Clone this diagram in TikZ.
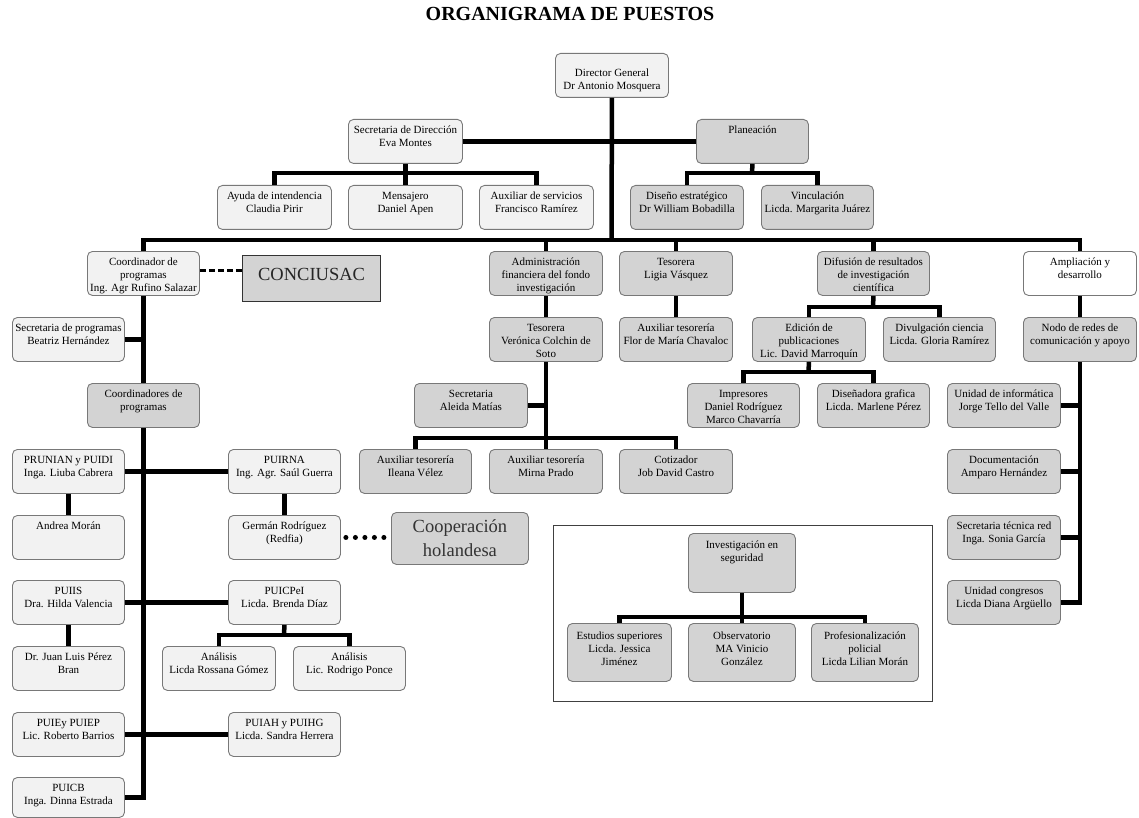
\documentclass[tikz,border=0pt]{standalone}
\usepackage{fontspec}
\setmainfont{Liberation Serif}
\definecolor{lightfill}{RGB}{242,242,242}
\definecolor{midfill}{RGB}{211,211,211}
\definecolor{boxborder}{RGB}{120,120,120}
\newcommand{\bxt}[4][14]{\parbox[t][#3pt][t]{#2pt}{\centering\rule{0pt}{#1pt}#4}}
\tikzset{
  box/.style={draw=boxborder, line width=0.9pt, rounded corners=5pt, inner sep=0pt, anchor=north west, font=\fontsize{11}{13}\selectfont},
  lt/.style={box, fill=lightfill},
  md/.style={box, fill=midfill},
  wt/.style={box, fill=white},
  conn/.style={line width=4.5pt, black},
  dashconn/.style={line width=3.5pt, black, dash pattern=on 6pt off 3pt},
  dotconn/.style={line width=5pt, black, line cap=round, dash pattern=on 0pt off 9.5pt, shorten <=5pt, shorten >=5pt},
  frame/.style={draw=black!75, line width=1pt},
}
\begin{document}
\begin{tikzpicture}[x=1pt,y=-1pt]
\useasboundingbox (0,0) rectangle (1139,818);
% title
\node[anchor=base, inner sep=0pt, font=\fontsize{20}{24}\selectfont\bfseries] (title) at (570,21) {ORGANIGRAMA DE PUESTOS};

% investigation frame
\node[frame, anchor=north west, minimum width=379pt, minimum height=176pt, inner sep=0pt] (frm) at (553,525) {};

% coordinates for bars
\coordinate (mb) at (611.5,240);
\coordinate (sdb) at (405,173);
\coordinate (plb) at (752,173);
\coordinate (dfb) at (873,307);
\coordinate (epb) at (808.5,372);
\coordinate (tvb) at (545.5,438);
\coordinate (pcb) at (284,635);
\coordinate (isb) at (741.5,617);

% ---------- nodes ----------
\node[lt] (dg) at (555,53) {\bxt[23]{113}{44}{Director General\\Dr Antonio Mosquera}};
\node[lt] (sd) at (348,119) {\bxt{114}{44}{Secretaria de Dirección\\Eva Montes}};
\node[md] (pl) at (696,119) {\bxt{112}{44}{Planeación}};
\node[lt] (ai) at (217,185) {\bxt{114}{44}{Ayuda de intendencia\\Claudia Pirir}};
\node[lt] (ms) at (348,185) {\bxt{114}{44}{Mensajero\\Daniel Apen}};
\node[lt] (as) at (479,185) {\bxt{114}{44}{Auxiliar de servicios\\Francisco Ramírez}};
\node[md] (de) at (630,185) {\bxt{113}{44}{Diseño estratégico\\Dr William Bobadilla}};
\node[md] (vi) at (761,185) {\bxt{112}{44}{Vinculación\\Licda. Margarita Juárez}};

\node[lt] (cp) at (87,251) {\bxt{112}{44}{Coordinador de\\programas\\Ing. Agr Rufino Salazar}};
\node[draw=black!80, line width=1.2pt, fill=midfill, inner sep=0pt, anchor=north west, font=\fontsize{18.5}{22}\selectfont, text=black!85] (cs) at (242,255) {\bxt[25]{138}{46}{CONCIUSAC}};
\node[md] (af) at (489,251) {\bxt{113}{44}{Administración\\financiera del fondo\\investigación}};
\node[md] (tl) at (619,251) {\bxt{113}{44}{Tesorera\\Ligia Vásquez}};
\node[md] (df) at (817,251) {\bxt{112}{44}{Difusión de resultados\\de investigación\\científica}};
\node[wt] (ad) at (1023,251) {\bxt{113}{44}{Ampliación y\\desarrollo}};

\node[lt] (sp) at (12,317) {\bxt{112}{44}{Secretaria de programas\\Beatriz Hernández}};
\node[md] (tv) at (489,317) {\bxt{113}{44}{Tesorera\\Verónica Colchin de\\Soto}};
\node[md] (at) at (619,317) {\bxt{113}{44}{Auxiliar tesorería\\Flor de María Chavaloc}};
\node[md] (ep) at (752,317) {\bxt{113}{44}{Edición de\\publicaciones\\Lic. David Marroquín}};
\node[md] (dc) at (883,317) {\bxt{112}{44}{Divulgación ciencia\\Licda. Gloria Ramírez}};
\node[md] (nr) at (1023,317) {\bxt{113}{44}{Nodo de redes de\\comunicación y apoyo}};

\node[md] (cdp) at (87,383) {\bxt{112}{44}{Coordinadores de\\programas}};
\node[md] (sa) at (414,383) {\bxt{113}{44}{Secretaria\\Aleida Matías}};
\node[md] (im) at (687,383) {\bxt{112}{44}{Impresores\\Daniel Rodríguez\\Marco Chavarría}};
\node[md] (dg2) at (817,383) {\bxt{112}{44}{Diseñadora grafica\\Licda. Marlene Pérez}};
\node[md] (ui) at (947,383) {\bxt{113}{44}{Unidad de informática\\Jorge Tello del Valle}};

\node[lt] (pp) at (12,449) {\bxt{112}{44}{PRUNIAN y PUIDI\\Inga. Liuba Cabrera}};
\node[lt] (pr) at (228,449) {\bxt{112}{44}{PUIRNA\\Ing. Agr. Saúl Guerra}};
\node[md] (iv) at (359,449) {\bxt{112}{44}{Auxiliar tesorería\\Ileana Vélez}};
\node[md] (mp) at (489,449) {\bxt{113}{44}{Auxiliar tesorería\\Mirna Prado}};
\node[md] (co) at (619,449) {\bxt{113}{44}{Cotizador\\Job David Castro}};
\node[md] (dm) at (947,449) {\bxt{113}{44}{Documentación\\Amparo Hernández}};

\node[lt] (am) at (12,515) {\bxt{112}{44}{Andrea Morán}};
\node[lt] (gr) at (228,515) {\bxt{112}{44}{Germán Rodríguez\\(Redfia)}};
\node[md, font=\fontsize{18.5}{24}\selectfont, text=black!80] (ch) at (391,512) {\bxt[20]{137}{52}{Cooperación\\holandesa}};
\node[md] (st) at (947,515) {\bxt{113}{44}{Secretaria técnica red\\Inga. Sonia García}};

\node[lt] (pi) at (12,580) {\bxt{112}{44}{PUIIS\\Dra. Hilda Valencia}};
\node[lt] (pc) at (228,580) {\bxt{112}{44}{PUICPeI\\Licda. Brenda Díaz}};
\node[md] (uc) at (947,580) {\bxt{113}{44}{Unidad congresos\\Licda Diana Argüello}};

\node[lt] (jl) at (12,646) {\bxt{112}{44}{Dr. Juan Luis Pérez\\Bran}};
\node[lt] (ar) at (162,646) {\bxt{113}{44}{Análisis\\Licda Rossana Gómez}};
\node[lt] (rp) at (293,646) {\bxt{112}{44}{Análisis\\Lic. Rodrigo Ponce}};

\node[lt] (pe) at (12,712) {\bxt{112}{44}{PUIEy PUIEP\\Lic. Roberto Barrios}};
\node[lt] (ph) at (228,712) {\bxt{112}{44}{PUIAH y PUIHG\\Licda. Sandra Herrera}};

\node[lt] (pb) at (12,777) {\bxt{112}{40}{PUICB\\Inga. Dinna Estrada}};

\node[md] (is) at (688,533) {\bxt[15]{107}{59}{Investigación en\\seguridad}};
\node[md] (es) at (567,623) {\bxt[16]{104}{58}{Estudios superiores\\Licda. Jessica\\Jiménez}};
\node[md] (ob) at (688,623) {\bxt[16]{107}{58}{Observatorio\\MA Vinicio\\González}};
\node[md] (pf) at (811,623) {\bxt[16]{107}{58}{Profesionalización\\policial\\Licda Lilian Morán}};

% ---------- connectors ----------
\draw[conn] (cp.north) |- (mb) -| (ad.north);
\draw[conn] (dg.south) -- (mb);
\draw[conn] (sd.east) -- (pl.west);
\draw[conn] (ai.north) |- (sdb) -| (as.north);
\draw[conn] (sd.south) -- (ms.north);
\draw[conn] (de.north) |- (plb) -| (vi.north);
\draw[conn] (pl.south) -- (plb);
\draw[conn] (af.north) -- (af.north |- mb);
\draw[conn] (tl.north) -- (tl.north |- mb);
\draw[conn] (df.north) -- (df.north |- mb);

\draw[conn] (cp.south) -- (cdp.north);
\draw[conn] (cdp.south) |- (pb.east);
\draw[conn] (sp.east) -- (sp.east -| cp.south);
\draw[dashconn] ([yshift=3pt]cp.east) -- ([yshift=3pt]cp.east -| cs.west);
\draw[conn] (pp.east) -- (pr.west);
\draw[conn] (pp.south) -- (am.north);
\draw[conn] (pr.south) -- (gr.north);
\draw[dotconn] (gr.east) -- (gr.east -| ch.west);
\draw[conn] (pi.east) -- (pc.west);
\draw[conn] (pi.south) -- (jl.north);
\draw[conn] (ar.north) |- (pcb) -| (rp.north);
\draw[conn] (pc.south) -- (pcb);
\draw[conn] (pe.east) -- (ph.west);

\draw[conn] (af.south) -- (tv.north);
\draw[conn] (iv.north) |- (tvb) -| (co.north);
\draw[conn] (tv.south) -- (mp.north);
\draw[conn] (sa.east) -- (sa.east -| tv.south);
\draw[conn] (tl.south) -- (at.north);

\draw[conn] (ep.north) |- (dfb) -| (dc.north);
\draw[conn] (df.south) -- (dfb);
\draw[conn] (im.north) |- (epb) -| (dg2.north);
\draw[conn] (ep.south) -- (epb);

\draw[conn] (ad.south) -- (nr.north);
\draw[conn] (nr.south) |- (uc.east);
\draw[conn] (ui.east) -- (ui.east -| nr.south);
\draw[conn] (dm.east) -- (dm.east -| nr.south);
\draw[conn] (st.east) -- (st.east -| nr.south);

\draw[conn] (es.north) |- (isb) -| (pf.north);
\draw[conn] (is.south) -- (ob.north);
\end{tikzpicture}
\end{document}
